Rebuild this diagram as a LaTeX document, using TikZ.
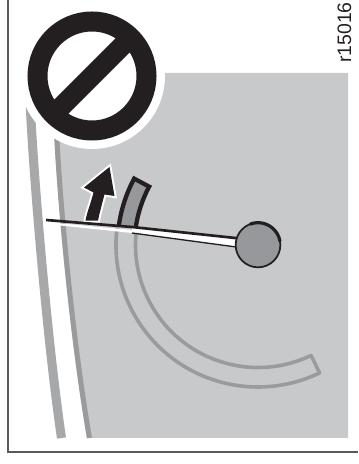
\documentclass[tikz,border=0pt]{standalone}
\usepackage{fontspec}
\setmainfont{Liberation Sans}
\definecolor{PlateGray}{HTML}{C8C9CB}
\definecolor{EdgeGray}{HTML}{9A9B9D}
\definecolor{RimGray}{HTML}{A7A8AA}
\definecolor{DialGray}{HTML}{97989B}
\definecolor{SignBlack}{HTML}{231F20}
\definecolor{FrameGray}{HTML}{58595B}
\tikzset{frameline/.style={draw=FrameGray,line width=1.5pt},
scale line/.style={draw=EdgeGray,line width=2.7pt,line join=round},
mark band/.style={draw=SignBlack,fill=DialGray,line width=3.2pt,line join=miter},
lift arrow/.style={fill=SignBlack,preaction={draw=white,line width=3pt,line join=miter}},
sign/.style={draw=SignBlack,line width=15pt}}
\begin{document}
\begin{tikzpicture}[x=0.75pt,y=0.75pt]
\useasboundingbox (0,0) rectangle (358,464);
\fill[PlateGray] (54,334) .. controls (57,264) and (70,124) .. (87,26) -- (348,26) -- (348,391) -- (54,391) -- cycle;
\draw[EdgeGray,line width=3.8pt] (56.5,334) .. controls (59.5,264) and (72.5,124) .. (89.5,26);
\draw[RimGray,line width=6.8pt] (30,364) .. controls (33,294) and (47,124) .. (61.5,26);
\draw[frameline] (7.5,464) -- (7.5,11.5) -- (358,11.5);
\fill[white] (92,388) circle (73);
\draw[sign] (92,388) circle (54.5);
\draw[sign] (54,350) -- (130,426);
\begin{scope}[shift={(258,219)}]
\draw[scale line] (173:142) arc[start angle=173,end angle=295.7,radius=142] -- (295.7:122.5) arc[start angle=295.7,end angle=173,radius=122.5];
\draw[mark band] (172:140.5) arc[start angle=172,end angle=151.8,radius=140.5] -- (151.8:123.5) arc[start angle=151.8,end angle=172,radius=123.5];
\end{scope}
\path[lift arrow] (109.5,297) -- (84,276.5) -- (93.5,271.5) .. controls (90,258) and (87,252) .. (85.5,243.3) -- (98,243.3) .. controls (100,253) and (102,260) .. (104.5,269.5) -- (114.5,268) -- cycle;
\fill[white] (46,242) -- (132,234) -- (132,231) -- (46,240) -- cycle;
\fill[white] (132,237) -- (240,225.5) -- (240,216.5) -- (132,231) -- cycle;
\draw[SignBlack,line width=2pt] (46,244) -- (132,237) -- (240,225.5);
\draw[SignBlack,line width=1pt] (132,231) -- (240,216.5);
\node[circle,draw=SignBlack,fill=DialGray,line width=1.3pt,minimum size=33.5pt,inner sep=0pt] (pivot) at (258,219) {};
\draw[SignBlack,line width=2.4pt,line cap=round] (258,219) ++(110:22.3) arc[start angle=110,end angle=10,radius=22.3];
\node[rotate=90,anchor=east,inner sep=0pt,font=\fontsize{14.6pt}{16pt}\selectfont,text=SignBlack] (code) at (344.3,462) {r15016};
\end{tikzpicture}
\end{document}
